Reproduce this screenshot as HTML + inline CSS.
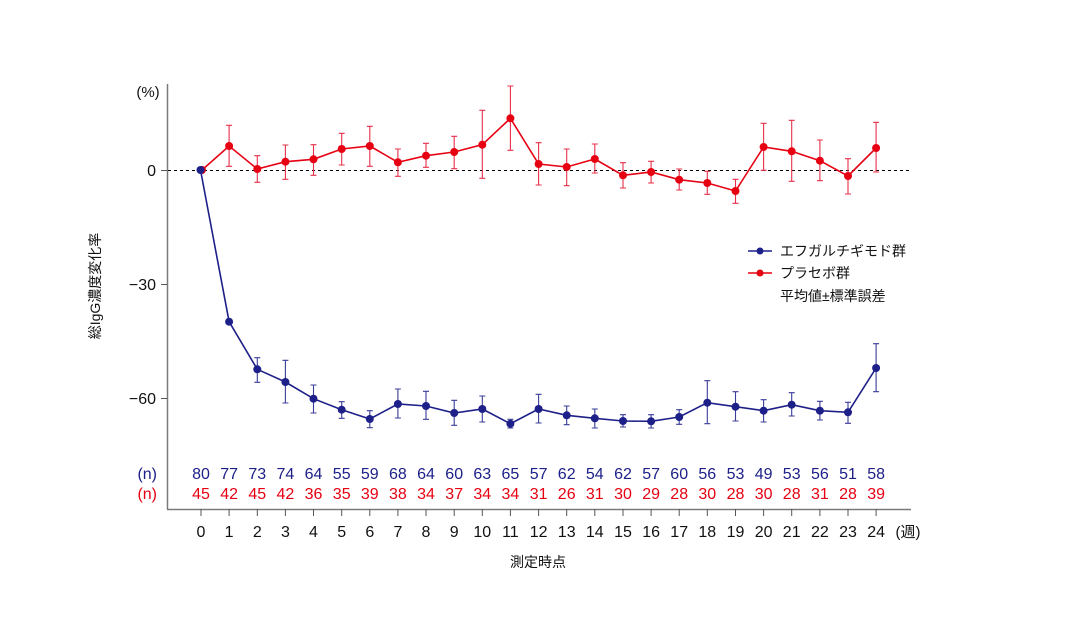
<!DOCTYPE html>
<html><head><meta charset="utf-8"><style>
html,body{margin:0;padding:0;background:#fff;}
svg{display:block;}
text{font-family:"Liberation Sans","Noto Sans CJK JP",sans-serif;}
</style></head><body>
<svg width="1070" height="627" viewBox="0 0 1070 627" xmlns="http://www.w3.org/2000/svg">
<rect width="1070" height="627" fill="#fff"/>
<!-- axes -->
<line x1="167.5" y1="84" x2="167.5" y2="509.5" stroke="#7a7a7a" stroke-width="1.5"/>
<line x1="167" y1="509.5" x2="911" y2="509.5" stroke="#7a7a7a" stroke-width="1.5"/>
<!-- y ticks -->
<g stroke="#555" stroke-width="1">
<line x1="161" y1="170.5" x2="167" y2="170.5"/>
<line x1="161" y1="284.5" x2="167" y2="284.5"/>
<line x1="161" y1="398.5" x2="167" y2="398.5"/>
</g>
<g font-size="16" fill="#111" text-anchor="end">
<text x="156" y="176">0</text>
<text x="156" y="290">−30</text>
<text x="156" y="404">−60</text>
</g>
<text x="148" y="97" font-size="15" fill="#111" text-anchor="middle">(%)</text>
<!-- zero dashed -->
<line x1="168" y1="170.5" x2="912" y2="170.5" stroke="#000" stroke-width="1" stroke-dasharray="3,3"/>
<!-- x ticks -->
<g stroke="#555" stroke-width="1">
<line x1="201" y1="509" x2="201" y2="516"/><line x1="229.1" y1="509" x2="229.1" y2="516"/><line x1="257.3" y1="509" x2="257.3" y2="516"/><line x1="285.4" y1="509" x2="285.4" y2="516"/><line x1="313.5" y1="509" x2="313.5" y2="516"/><line x1="341.7" y1="509" x2="341.7" y2="516"/><line x1="369.8" y1="509" x2="369.8" y2="516"/><line x1="397.9" y1="509" x2="397.9" y2="516"/><line x1="426" y1="509" x2="426" y2="516"/><line x1="454.2" y1="509" x2="454.2" y2="516"/><line x1="482.3" y1="509" x2="482.3" y2="516"/><line x1="510.4" y1="509" x2="510.4" y2="516"/><line x1="538.6" y1="509" x2="538.6" y2="516"/><line x1="566.7" y1="509" x2="566.7" y2="516"/><line x1="594.8" y1="509" x2="594.8" y2="516"/><line x1="623" y1="509" x2="623" y2="516"/><line x1="651.1" y1="509" x2="651.1" y2="516"/><line x1="679.2" y1="509" x2="679.2" y2="516"/><line x1="707.3" y1="509" x2="707.3" y2="516"/><line x1="735.5" y1="509" x2="735.5" y2="516"/><line x1="763.6" y1="509" x2="763.6" y2="516"/><line x1="791.7" y1="509" x2="791.7" y2="516"/><line x1="819.9" y1="509" x2="819.9" y2="516"/><line x1="848" y1="509" x2="848" y2="516"/><line x1="876.1" y1="509" x2="876.1" y2="516"/>
</g>
<g font-size="16" fill="#111" text-anchor="middle">
<text x="201" y="537">0</text><text x="229.1" y="537">1</text><text x="257.3" y="537">2</text><text x="285.4" y="537">3</text><text x="313.5" y="537">4</text><text x="341.7" y="537">5</text><text x="369.8" y="537">6</text><text x="397.9" y="537">7</text><text x="426" y="537">8</text><text x="454.2" y="537">9</text><text x="482.3" y="537">10</text><text x="510.4" y="537">11</text><text x="538.6" y="537">12</text><text x="566.7" y="537">13</text><text x="594.8" y="537">14</text><text x="623" y="537">15</text><text x="651.1" y="537">16</text><text x="679.2" y="537">17</text><text x="707.3" y="537">18</text><text x="735.5" y="537">19</text><text x="763.6" y="537">20</text><text x="791.7" y="537">21</text><text x="819.9" y="537">22</text><text x="848" y="537">23</text><text x="876.1" y="537">24</text>
</g>
<text x="908" y="537" font-size="15" fill="#111" text-anchor="middle">(週)</text>
<text x="538" y="567" font-size="14" fill="#111" text-anchor="middle">測定時点</text>
<text transform="translate(100,286) rotate(-90)" font-size="14" fill="#111" text-anchor="middle">総IgG濃度変化率</text>
<!-- n rows -->
<g font-size="16" fill="#1d2088" text-anchor="middle">
<text x="157" y="479" text-anchor="end">(n)</text>
<text x="201" y="479">80</text><text x="229.1" y="479">77</text><text x="257.3" y="479">73</text><text x="285.4" y="479">74</text><text x="313.5" y="479">64</text><text x="341.7" y="479">55</text><text x="369.8" y="479">59</text><text x="397.9" y="479">68</text><text x="426" y="479">64</text><text x="454.2" y="479">60</text><text x="482.3" y="479">63</text><text x="510.4" y="479">65</text><text x="538.6" y="479">57</text><text x="566.7" y="479">62</text><text x="594.8" y="479">54</text><text x="623" y="479">62</text><text x="651.1" y="479">57</text><text x="679.2" y="479">60</text><text x="707.3" y="479">56</text><text x="735.5" y="479">53</text><text x="763.6" y="479">49</text><text x="791.7" y="479">53</text><text x="819.9" y="479">56</text><text x="848" y="479">51</text><text x="876.1" y="479">58</text>
</g>
<g font-size="16" fill="#e60012" text-anchor="middle">
<text x="157" y="499" text-anchor="end">(n)</text>
<text x="201" y="499">45</text><text x="229.1" y="499">42</text><text x="257.3" y="499">45</text><text x="285.4" y="499">42</text><text x="313.5" y="499">36</text><text x="341.7" y="499">35</text><text x="369.8" y="499">39</text><text x="397.9" y="499">38</text><text x="426" y="499">34</text><text x="454.2" y="499">37</text><text x="482.3" y="499">34</text><text x="510.4" y="499">34</text><text x="538.6" y="499">31</text><text x="566.7" y="499">26</text><text x="594.8" y="499">31</text><text x="623" y="499">30</text><text x="651.1" y="499">29</text><text x="679.2" y="499">28</text><text x="707.3" y="499">30</text><text x="735.5" y="499">28</text><text x="763.6" y="499">30</text><text x="791.7" y="499">28</text><text x="819.9" y="499">31</text><text x="848" y="499">28</text><text x="876.1" y="499">39</text>
</g>
<!-- red series -->
<g stroke="#e8304a" stroke-width="1.1" fill="none">
<path d="M229.1 125.3V166.3M226.1 125.3H232.1M226.1 166.3H232.1"/>
<path d="M257.3 155.7V182.3M254.3 155.7H260.3M254.3 182.3H260.3"/>
<path d="M285.4 145V179.3M282.4 145H288.4M282.4 179.3H288.4"/>
<path d="M313.5 144.7V175.3M310.5 144.7H316.5M310.5 175.3H316.5"/>
<path d="M341.7 133.3V165M338.7 133.3H344.7M338.7 165H344.7"/>
<path d="M369.8 126.3V166.3M366.8 126.3H372.8M366.8 166.3H372.8"/>
<path d="M397.9 149V176.3M394.9 149H400.9M394.9 176.3H400.9"/>
<path d="M426 143.3V167.3M423 143.3H429M423 167.3H429"/>
<path d="M454.2 136.3V168.7M451.2 136.3H457.2M451.2 168.7H457.2"/>
<path d="M482.3 110.3V178.3M479.3 110.3H485.3M479.3 178.3H485.3"/>
<path d="M510.4 86V150.3M507.4 86H513.4M507.4 150.3H513.4"/>
<path d="M538.6 142.7V185M535.6 142.7H541.6M535.6 185H541.6"/>
<path d="M566.7 149V185.7M563.7 149H569.7M563.7 185.7H569.7"/>
<path d="M594.8 144V173M591.8 144H597.8M591.8 173H597.8"/>
<path d="M623 162.7V188M620 162.7H626M620 188H626"/>
<path d="M651.1 161.3V183M648.1 161.3H654.1M648.1 183H654.1"/>
<path d="M679.2 169V190M676.2 169H682.2M676.2 190H682.2"/>
<path d="M707.3 171.3V194.3M704.3 171.3H710.3M704.3 194.3H710.3"/>
<path d="M735.5 179.3V203.3M732.5 179.3H738.5M732.5 203.3H738.5"/>
<path d="M763.6 123.3V170.3M760.6 123.3H766.6M760.6 170.3H766.6"/>
<path d="M791.7 120.3V181.3M788.7 120.3H794.7M788.7 181.3H794.7"/>
<path d="M819.9 140V180.7M816.9 140H822.9M816.9 180.7H822.9"/>
<path d="M848 158.7V194M845 158.7H851M845 194H851"/>
<path d="M876.1 122.3V172M873.1 122.3H879.1M873.1 172H879.1"/>
</g>
<polyline fill="none" stroke="#e60012" stroke-width="1.6" points="202,170 229.1,146 257.3,169 285.4,161.7 313.5,159.3 341.7,149 369.8,146 397.9,162.3 426,155.7 454.2,152 482.3,144.7 510.4,118.3 538.6,164 566.7,167 594.8,159 623,175.3 651.1,172 679.2,179.7 707.3,183 735.5,191 763.6,147 791.7,151.3 819.9,160.7 848,176 876.1,148"/>
<g fill="#e60012">
<circle cx="202" cy="170" r="4"/><circle cx="229.1" cy="146" r="4"/><circle cx="257.3" cy="169" r="4"/><circle cx="285.4" cy="161.7" r="4"/><circle cx="313.5" cy="159.3" r="4"/><circle cx="341.7" cy="149" r="4"/><circle cx="369.8" cy="146" r="4"/><circle cx="397.9" cy="162.3" r="4"/><circle cx="426" cy="155.7" r="4"/><circle cx="454.2" cy="152" r="4"/><circle cx="482.3" cy="144.7" r="4"/><circle cx="510.4" cy="118.3" r="4"/><circle cx="538.6" cy="164" r="4"/><circle cx="566.7" cy="167" r="4"/><circle cx="594.8" cy="159" r="4"/><circle cx="623" cy="175.3" r="4"/><circle cx="651.1" cy="172" r="4"/><circle cx="679.2" cy="179.7" r="4"/><circle cx="707.3" cy="183" r="4"/><circle cx="735.5" cy="191" r="4"/><circle cx="763.6" cy="147" r="4"/><circle cx="791.7" cy="151.3" r="4"/><circle cx="819.9" cy="160.7" r="4"/><circle cx="848" cy="176" r="4"/><circle cx="876.1" cy="148" r="4"/>
</g>
<!-- blue series -->
<g stroke="#3a3d99" stroke-width="1.1" fill="none">
<path d="M257.3 357.7V382.3M254.3 357.7H260.3M254.3 382.3H260.3"/>
<path d="M285.4 360.3V403M282.4 360.3H288.4M282.4 403H288.4"/>
<path d="M313.5 385V413M310.5 385H316.5M310.5 413H316.5"/>
<path d="M341.7 401.7V418.3M338.7 401.7H344.7M338.7 418.3H344.7"/>
<path d="M369.8 410.7V427.7M366.8 410.7H372.8M366.8 427.7H372.8"/>
<path d="M397.9 389V418M394.9 389H400.9M394.9 418H400.9"/>
<path d="M426 391.3V419.3M423 391.3H429M423 419.3H429"/>
<path d="M454.2 400.3V425.3M451.2 400.3H457.2M451.2 425.3H457.2"/>
<path d="M482.3 396V422M479.3 396H485.3M479.3 422H485.3"/>
<path d="M510.4 419.3V428M507.4 419.3H513.4M507.4 428H513.4"/>
<path d="M538.6 394.3V423M535.6 394.3H541.6M535.6 423H541.6"/>
<path d="M566.7 406V424.7M563.7 406H569.7M563.7 424.7H569.7"/>
<path d="M594.8 409V428M591.8 409H597.8M591.8 428H597.8"/>
<path d="M623 414.7V427M620 414.7H626M620 427H626"/>
<path d="M651.1 414.7V428M648.1 414.7H654.1M648.1 428H654.1"/>
<path d="M679.2 409.7V424.3M676.2 409.7H682.2M676.2 424.3H682.2"/>
<path d="M707.3 380.7V423.7M704.3 380.7H710.3M704.3 423.7H710.3"/>
<path d="M735.5 391.7V421M732.5 391.7H738.5M732.5 421H738.5"/>
<path d="M763.6 399.7V422M760.6 399.7H766.6M760.6 422H766.6"/>
<path d="M791.7 392.7V416M788.7 392.7H794.7M788.7 416H794.7"/>
<path d="M819.9 401.3V420M816.9 401.3H822.9M816.9 420H822.9"/>
<path d="M848 402.3V423.3M845 402.3H851M845 423.3H851"/>
<path d="M876.1 343.7V391.7M873.1 343.7H879.1M873.1 391.7H879.1"/>
</g>
<polyline fill="none" stroke="#1d2088" stroke-width="1.6" points="200.5,170 229.1,321.7 257.3,369.3 285.4,382 313.5,398.7 341.7,409.7 369.8,419 397.9,404 426,406 454.2,413 482.3,409 510.4,423.7 538.6,409 566.7,415.3 594.8,418.3 623,421 651.1,421.3 679.2,417 707.3,402.7 735.5,406.7 763.6,410.7 791.7,404.7 819.9,410.7 848,412.3 876.1,368"/>
<g fill="#1d2088">
<circle cx="200.5" cy="170" r="4"/><circle cx="229.1" cy="321.7" r="4"/><circle cx="257.3" cy="369.3" r="4"/><circle cx="285.4" cy="382" r="4"/><circle cx="313.5" cy="398.7" r="4"/><circle cx="341.7" cy="409.7" r="4"/><circle cx="369.8" cy="419" r="4"/><circle cx="397.9" cy="404" r="4"/><circle cx="426" cy="406" r="4"/><circle cx="454.2" cy="413" r="4"/><circle cx="482.3" cy="409" r="4"/><circle cx="510.4" cy="423.7" r="4"/><circle cx="538.6" cy="409" r="4"/><circle cx="566.7" cy="415.3" r="4"/><circle cx="594.8" cy="418.3" r="4"/><circle cx="623" cy="421" r="4"/><circle cx="651.1" cy="421.3" r="4"/><circle cx="679.2" cy="417" r="4"/><circle cx="707.3" cy="402.7" r="4"/><circle cx="735.5" cy="406.7" r="4"/><circle cx="763.6" cy="410.7" r="4"/><circle cx="791.7" cy="404.7" r="4"/><circle cx="819.9" cy="410.7" r="4"/><circle cx="848" cy="412.3" r="4"/><circle cx="876.1" cy="368" r="4"/>
</g>
<!-- legend -->
<line x1="748" y1="251" x2="772" y2="251" stroke="#1d2088" stroke-width="1.6"/>
<circle cx="760" cy="251" r="3.5" fill="#1d2088"/>
<line x1="748" y1="273" x2="772" y2="273" stroke="#e60012" stroke-width="1.6"/>
<circle cx="760" cy="273" r="3.5" fill="#e60012"/>
<g font-size="14" fill="#111">
<text x="780" y="256">エフガルチギモド群</text>
<text x="780" y="278">プラセボ群</text>
<text x="780" y="301">平均値±標準誤差</text>
</g>
</svg>
</body></html>
